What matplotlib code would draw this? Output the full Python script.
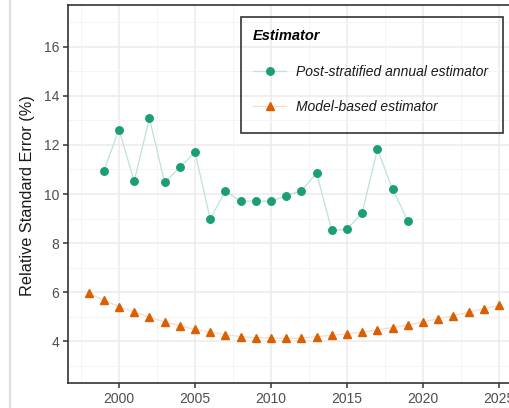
import numpy as np
import matplotlib
matplotlib.use("Agg")
import matplotlib.pyplot as plt
from matplotlib.lines import Line2D
from matplotlib.patches import Rectangle
from matplotlib.ticker import MultipleLocator

# Relative standard error by year for the two estimators
post_years = list(range(1999, 2020))
post_rse = [10.95, 12.62, 10.52, 13.09, 10.47, 11.09, 11.70, 8.98, 10.13, 9.70,
            9.72, 9.70, 9.93, 10.13, 10.85, 8.52, 8.56, 9.24, 11.82, 10.19, 8.92]

model_years = list(range(1998, 2026))
model_rse = [5.95, 5.68, 5.41, 5.19, 4.98, 4.79, 4.63, 4.48, 4.37, 4.27,
             4.19, 4.15, 4.13, 4.12, 4.13, 4.19, 4.24, 4.30, 4.37, 4.47,
             4.56, 4.66, 4.78, 4.92, 5.04, 5.18, 5.33, 5.46]

series_labels = ["Post-stratified annual estimator", "Model-based estimator"]
legend_title = "Estimator"
y_label = "Relative Standard Error (%)"

green = "#1B9E77"
green_line = "#BDE3D7"
orange = "#D95F02"
orange_line = "#F7DCC8"

plt.rcParams["font.family"] = ["Liberation Sans", "DejaVu Sans"]

fig = plt.figure(figsize=(5.1, 4.08), dpi=100)
fig.patch.set_facecolor("white")

# panel runs off the right edge of the canvas
ax = fig.add_axes([68.1 / 510, 25 / 408, 451.4 / 510, 378 / 408])

ax.plot(post_years, post_rse, color=green_line, lw=0.9, marker="o",
        markersize=5.4, markerfacecolor=green, markeredgecolor=green, zorder=3)
ax.plot(model_years, model_rse, color=orange_line, lw=0.9, marker="^",
        markersize=6.4, markerfacecolor=orange, markeredgecolor=orange, zorder=3)

ax.set_xlim(1996.65, 2026.35)
ax.set_ylim(2.3, 17.7)
ax.xaxis.set_major_locator(MultipleLocator(5))
ax.xaxis.set_minor_locator(MultipleLocator(2.5))
ax.yaxis.set_major_locator(MultipleLocator(2))
ax.yaxis.set_minor_locator(MultipleLocator(1))
ax.set_yticks([4, 6, 8, 10, 12, 14, 16])

ax.grid(which="major", color="#EBEBEB", lw=1.1)
ax.grid(which="minor", color="#F3F3F3", lw=0.6)
ax.set_axisbelow(True)

for side in ["left", "top", "bottom", "right"]:
    ax.spines[side].set_color("#333333")
    ax.spines[side].set_linewidth(1.2)

ax.tick_params(which="major", length=3.8, width=1.1, color="#333333",
               labelcolor="#4D4D4D", labelsize=10, pad=2.5)
ax.tick_params(which="minor", length=0)

ax.set_ylabel(y_label, fontsize=11.7, color="#1A1A1A")
ax.yaxis.set_label_coords(-0.073, 0.497)

# legend contents, with a separate frame drawn around them
handles = [
    Line2D([], [], color=green_line, lw=0.9, marker="o", markersize=5.4,
           markerfacecolor=green, markeredgecolor=green),
    Line2D([], [], color=orange_line, lw=0.9, marker="^", markersize=6.4,
           markerfacecolor=orange, markeredgecolor=orange),
]
leg = ax.legend(handles, series_labels, title=legend_title, frameon=False,
                loc="upper left", bbox_to_anchor=(253 / 510, 379 / 408),
                bbox_transform=fig.transFigure, borderpad=0, borderaxespad=0,
                prop={"size": 10, "style": "italic"}, handlelength=2.4,
                handletextpad=0.7, labelspacing=1.55, alignment="left")
leg.get_title().set_fontsize(10.5)
leg.get_title().set_fontweight("bold")
leg.get_title().set_fontstyle("italic")
for t in leg.get_texts():
    t.set_color("#1A1A1A")

fig.add_artist(Rectangle((241 / 510, 275 / 408), 262 / 510, 116 / 408,
                         transform=fig.transFigure, facecolor="none",
                         edgecolor="#333333", lw=1.2, zorder=5))

# edge of the neighbouring panel on the left
fig.add_artist(Line2D([10 / 510, 10 / 510], [0, 1], transform=fig.transFigure,
                      color="#DEDEDE", lw=1.6))

fig.savefig("out.png", dpi=100, facecolor="white")
